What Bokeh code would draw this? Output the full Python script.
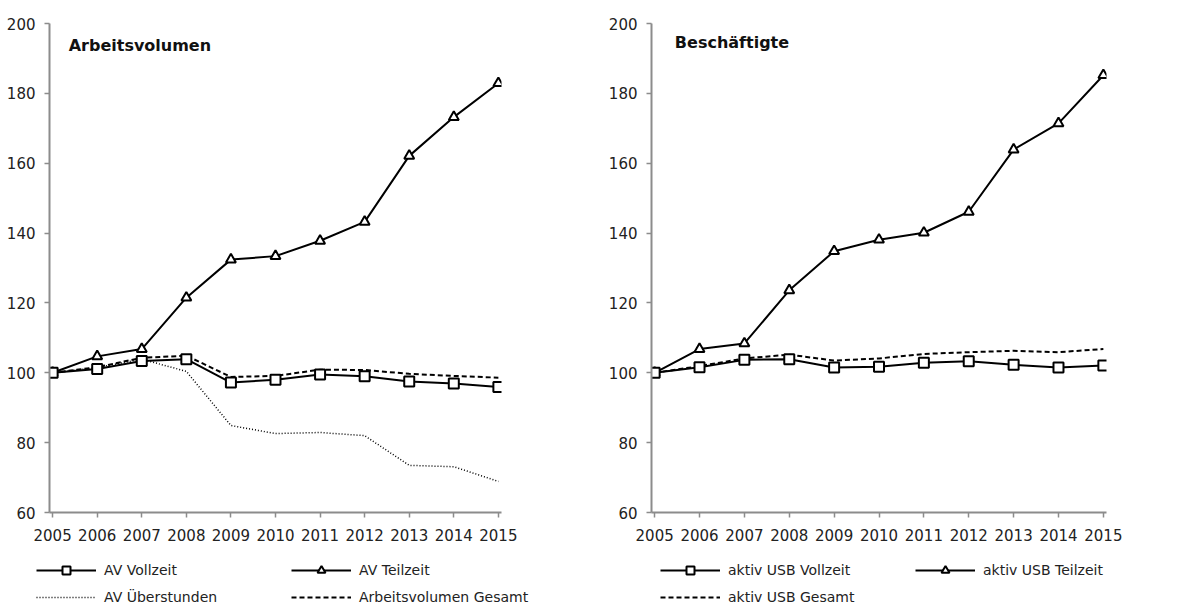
from bokeh.plotting import figure
from bokeh.models import Range1d, Legend, LegendItem, Label, FixedTicker
from bokeh.layouts import row, column
from bokeh.embed import file_html
from bokeh.resources import INLINE

years = [2005, 2006, 2007, 2008, 2009, 2010, 2011, 2012, 2013, 2014, 2015]

# Arbeitsvolumen (left)
av_vollzeit = [100, 101.1, 103.4, 103.9, 97.2, 98.0, 99.5, 99.0, 97.5, 96.9, 95.9]
av_teilzeit = [100, 104.7, 106.8, 121.5, 132.4, 133.4, 137.8, 143.2, 162.1, 173.2, 182.9]
av_ueberstunden = [100, 101.5, 103.9, 100.4, 84.9, 82.6, 82.9, 82.0, 73.5, 73.1, 68.9]
av_gesamt = [100, 101.6, 104.3, 104.9, 98.8, 99.1, 100.9, 100.8, 99.7, 99.1, 98.6]

# Beschäftigte (right)
usb_vollzeit = [100, 101.6, 103.7, 103.9, 101.5, 101.7, 102.9, 103.3, 102.3, 101.5, 102.1]
usb_teilzeit = [100, 106.8, 108.4, 123.6, 134.8, 138.1, 140.1, 146.1, 163.9, 171.4, 185.2]
usb_gesamt = [100, 101.9, 104.1, 105.2, 103.5, 104.1, 105.4, 105.9, 106.3, 105.9, 106.8]

y_ticks = [60, 80, 100, 120, 140, 160, 180, 200]

FONT = "DejaVu Sans"
AXIS_COLOR = "#8c8c8c"
TEXT_COLOR = "#222222"

MAIN_H = 550
LEG_H = 57


def make_fig(width, b_left, b_right, b_top, b_bottom, title_text, title_x, title_y):
    p = figure(width=width, height=MAIN_H, output_backend="svg", toolbar_location=None,
               x_range=Range1d(2004.93, 2015.07), y_range=Range1d(60, 200),
               min_border_left=b_left, min_border_right=b_right,
               min_border_top=b_top, min_border_bottom=b_bottom)
    p.outline_line_color = None
    p.grid.visible = False
    for ax in (p.xaxis[0], p.yaxis[0]):
        ax.axis_line_color = AXIS_COLOR
        ax.axis_line_width = 2
        ax.major_tick_line_color = AXIS_COLOR
        ax.major_tick_line_width = 1.5
        ax.major_tick_out = 5
        ax.major_tick_in = 0
        ax.minor_tick_line_color = None
        ax.major_label_text_font = FONT
        ax.major_label_text_color = TEXT_COLOR
        ax.major_label_text_font_size = "15px"
    p.xaxis.ticker = FixedTicker(ticks=years)
    p.yaxis.ticker = FixedTicker(ticks=y_ticks)
    p.xaxis.major_label_standoff = 11
    p.yaxis.major_label_standoff = 9
    p.add_layout(Label(x=title_x, y=title_y, text=title_text, text_font=FONT,
                       text_font_size="16px", text_font_style="bold",
                       text_color="#111111", text_baseline="middle"))
    return p


def add_series(p, ys, dash="solid", width=2, marker=None):
    rs = [p.line(years, ys, line_color="black", line_width=width, line_dash=dash)]
    if marker is not None:
        rs.append(p.scatter(years, ys, marker=marker, size=10, fill_color="white",
                            line_color="black", line_width=2))
    return rs


def legend_fig(width, series, labels, x_off):
    # a strip below the chart that only holds the legend; its series lie outside its ranges
    lf = figure(width=width, height=LEG_H, output_backend="svg", toolbar_location=None,
                x_range=Range1d(2004.93, 2015.07), y_range=Range1d(0, 1),
                x_axis_location=None, y_axis_location=None,
                min_border=0, min_border_left=0, min_border_right=0,
                min_border_top=0, min_border_bottom=0)
    lf.outline_line_color = None
    lf.grid.visible = False
    items = []
    for (ys, dash, width_, marker), lab in zip(series, labels):
        rs = add_series(lf, ys, dash=dash, width=width_, marker=marker)
        items.append(LegendItem(label=lab, renderers=rs))
    lg = Legend(items=items, orientation="vertical", ncols=2,
                glyph_width=60, glyph_height=20, label_standoff=8,
                label_width=180, label_height=20, spacing=7,
                label_text_font=FONT, label_text_font_size="14px",
                label_text_color=TEXT_COLOR,
                border_line_color=None, background_fill_alpha=0,
                padding=0, margin=0, location=(x_off, 0))
    lf.add_layout(lg)
    return lf


# Left figure
p1 = make_fig(605, 49, 104, 23, 37, "Arbeitsvolumen", 2005.36, 193.7)
add_series(p1, av_ueberstunden, dash="1 2", width=1.5)
add_series(p1, av_gesamt, dash="5 3", width=2)
add_series(p1, av_teilzeit, marker="triangle")
add_series(p1, av_vollzeit, marker="square")
l1 = legend_fig(605, [
    (av_vollzeit, "solid", 2, "square"),
    (av_ueberstunden, "1 2", 1.5, None),
    (av_teilzeit, "solid", 2, "triangle"),
    (av_gesamt, "5 3", 2, None),
], ["AV Vollzeit", "AV Überstunden", "AV Teilzeit", "Arbeitsvolumen Gesamt"], 36)

# Right figure
p2 = make_fig(590, 45, 89, 21, 38, "Beschäftigte", 2005.45, 194.5)
add_series(p2, usb_gesamt, dash="5 3", width=2)
add_series(p2, usb_teilzeit, marker="triangle")
add_series(p2, usb_vollzeit, marker="square")
l2 = legend_fig(590, [
    (usb_vollzeit, "solid", 2, "square"),
    (usb_gesamt, "5 3", 2, None),
    (usb_teilzeit, "solid", 2, "triangle"),
], ["aktiv USB Vollzeit", "aktiv USB Gesamt", "aktiv USB Teilzeit"], 55)

layout = column(row(p1, p2), row(l1, l2))
open("out.html", "w").write(file_html(layout, INLINE))
